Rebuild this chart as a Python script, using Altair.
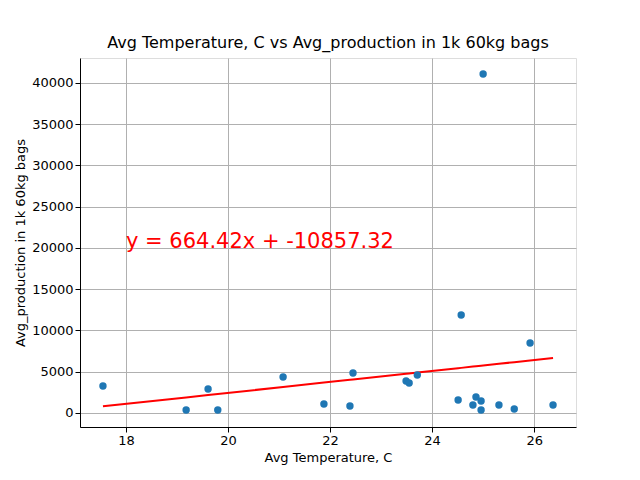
import altair as alt
import pandas as pd

temp = [17.55, 19.18, 19.61, 19.80, 21.08, 21.88, 22.39, 22.45, 23.49, 23.55, 23.71,
        24.51, 24.57, 24.80, 24.86, 24.96, 24.96, 25.00, 25.31, 25.61, 25.92, 26.37]
prod = [3270, 360, 2900, 360, 4360, 1090, 850, 4850, 3880, 3640, 4600,
        1580, 11880, 970, 1940, 1450, 360, 41090, 970, 480, 8480, 970]
slope = 664.42
intercept = -10857.32

df = pd.DataFrame({"temp": temp, "prod": prod})
df["fit"] = slope * df["temp"] + intercept

ax = dict(format="d", gridColor="#b0b0b0", domainColor="black", tickColor="black",
          labelColor="black", labelFontSize=13, titleFontSize=13, titleFontWeight="normal",
          labelFont="DejaVu Sans", titleFont="DejaVu Sans", tickSize=5, titleColor="black")
xs = alt.Scale(domain=[17.1, 26.82], nice=False, zero=False)
ys = alt.Scale(domain=[-1700, 43030], nice=False, zero=False)
x = alt.X("temp:Q", scale=xs, title="Avg Temperature, C",
          axis=alt.Axis(values=[18, 20, 22, 24, 26], **ax))
y = alt.Y("prod:Q", scale=ys, title="Avg_production in 1k 60kg bags",
          axis=alt.Axis(values=list(range(0, 40001, 5000)), **ax))

base = alt.Chart(df)
pts = base.mark_circle(size=55, opacity=1, color="#1f77b4").encode(x=x, y=y)
line = base.mark_line(color="red", strokeWidth=2).encode(
    x=alt.X("temp:Q", scale=xs), y=alt.Y("fit:Q", scale=ys))
label = alt.Chart(pd.DataFrame({"temp": [18.0], "prod": [20000],
                                "t": [f"y = {slope:.2f}x + {intercept:.2f}"]})).mark_text(
    align="left", baseline="alphabetic", color="red", fontSize=21, font="DejaVu Sans"
).encode(x=alt.X("temp:Q", scale=xs), y=alt.Y("prod:Q", scale=ys), text="t:N")

chart = (line + pts + label).properties(
    width=496, height=369, autosize="none",
    padding={"left": 72, "top": 50, "right": 56, "bottom": 45},
    title=alt.Title("Avg Temperature, C vs Avg_production in 1k 60kg bags",
                    fontSize=16, fontWeight="normal", font="DejaVu Sans", offset=7,
                    color="black"),
).configure_view(stroke="black", strokeWidth=1).configure(background="white")

chart.save("out.html", embed_options={"renderer": "svg", "actions": False})
